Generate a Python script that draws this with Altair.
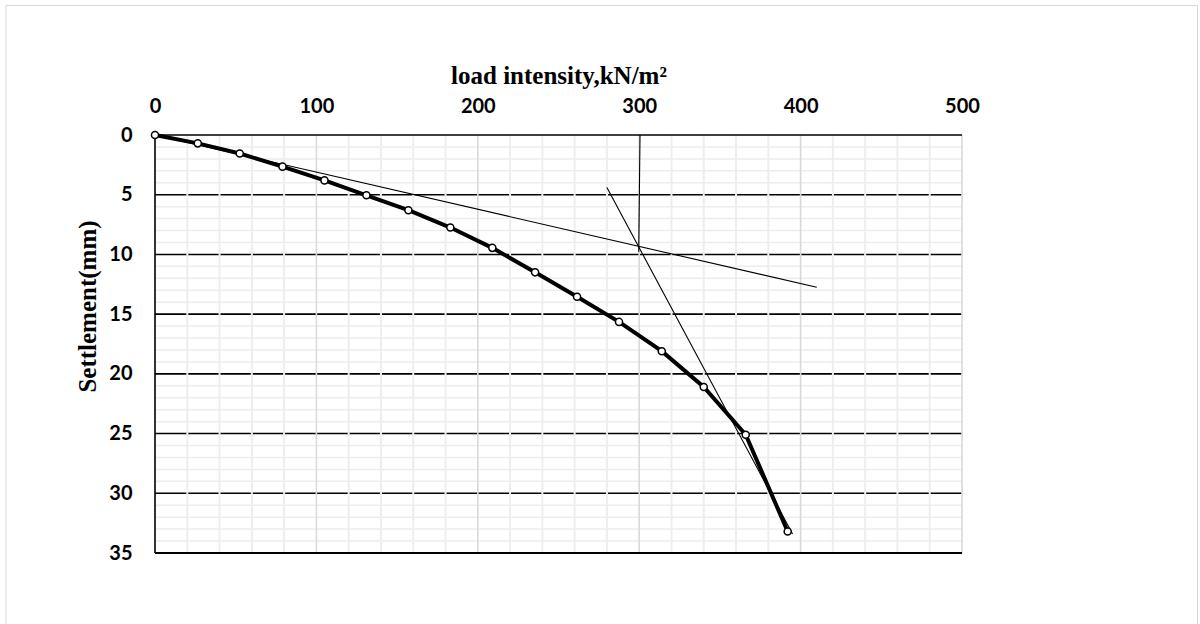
import altair as alt
import pandas as pd

# ---- data ----
loads = [0, 26.5, 52.5, 79, 105, 131, 157, 183, 209, 235.5, 261.5, 287.5, 314, 340, 366, 392]
settlements = [0, 0.7, 1.55, 2.65, 3.8, 5.05, 6.3, 7.75, 9.45, 11.5, 13.55, 15.65, 18.1, 21.1, 25.1, 33.2]

tangent_ids = ["t1", "t1", "t2", "t2", "v", "v"]
tangent_loads = [0, 410, 280, 395, 300.5, 299.7]
tangent_settle = [0, 12.75, 4.4, 33.4, 0, 9.8]
tangent_order = [0, 1, 0, 1, 0, 1]

x_ticks = [0, 100, 200, 300, 400, 500]
y_ticks = [0, 5, 10, 15, 20, 25, 30, 35]
y_minor = [v for v in range(1, 35) if v % 5 != 0]
y_major = [5, 10, 15, 20, 25, 30]
x_minor = [v for v in range(20, 500, 20) if v % 100 != 0]
x_major = [100, 200, 300, 400, 500]

W, H = 807, 418

curve = pd.DataFrame({"load": loads, "settle": settlements, "i": range(len(loads))})
tang = pd.DataFrame({"id": tangent_ids, "load": tangent_loads, "settle": tangent_settle, "o": tangent_order})
hmin = pd.DataFrame({"settle": y_minor, "load": 0, "load_b": 500})
hmaj = pd.DataFrame({"settle": y_major, "load": 0, "load_b": 500})
vmin = pd.DataFrame({"load": x_minor, "settle": 0, "settle_b": 35})
vmaj = pd.DataFrame({"load": x_major, "settle": 0, "settle_b": 35})
top_b = pd.DataFrame({"settle": [0], "load": [0], "load_b": [500]})
bot_b = pd.DataFrame({"settle": [35], "load": [0], "load_b": [500]})
left_b = pd.DataFrame({"load": [0], "settle": [0], "settle_b": [35]})

xs = alt.Scale(domain=[0, 500], nice=False, zero=False)
ys = alt.Scale(domain=[0, 35], nice=False, zero=False, reverse=True)

xaxis = alt.Axis(
    orient="top", values=x_ticks, title="load intensity,kN/m²",
    titleFont="Liberation Serif", titleFontSize=25, titleFontWeight="bold",
    titleColor="black", titleY=-52, titleBaseline="alphabetic",
    labelFont="Lato", labelFontSize=20, labelFontWeight="bold", labelColor="black",
    labelPadding=23, labelBaseline="alphabetic", labelFlush=False,
    ticks=False, tickSize=0, domain=False, grid=False,
)
yaxis = alt.Axis(
    orient="left", values=y_ticks, title="Settlement(mm)",
    titleFont="Liberation Serif", titleFontSize=25, titleFontWeight="bold",
    titleColor="black", titleX=-60, titleY=171, titleBaseline="alphabetic",
    labelFont="Lato", labelFontSize=20, labelFontWeight="bold", labelColor="black",
    labelPadding=23, labelFlush=False,
    ticks=False, tickSize=0, domain=False, grid=False,
)

X = alt.X("load:Q", scale=xs, axis=xaxis)
Y = alt.Y("settle:Q", scale=ys, axis=yaxis)

frame = alt.Chart(pd.DataFrame({"a": [0]})).mark_rect(
    fill="white", fillOpacity=0, stroke="#d9d9d9", strokeWidth=1
).encode(x=alt.value(-149), x2=alt.value(1042.5), y=alt.value(-129.5), y2=alt.value(520))

h_minor = alt.Chart(hmin).mark_rule(color="#ededed", strokeWidth=1.5).encode(y=Y, x=X, x2="load_b:Q")
h_major = alt.Chart(hmaj).mark_rule(color="black", strokeWidth=1.6).encode(y=Y, x=X, x2="load_b:Q")
v_minor = alt.Chart(vmin).mark_rule(color="#eeeeee", strokeWidth=2).encode(x=X, y=Y, y2="settle_b:Q")
v_major = alt.Chart(vmaj).mark_rule(color="#d9d9d9", strokeWidth=1.6).encode(x=X, y=Y, y2="settle_b:Q")
top_line = alt.Chart(top_b).mark_rule(color="black", strokeWidth=1.5).encode(y=Y, x=X, x2="load_b:Q")
bot_line = alt.Chart(bot_b).mark_rule(color="black", strokeWidth=2.2).encode(y=Y, x=X, x2="load_b:Q")
left_line = alt.Chart(left_b).mark_rule(color="black", strokeWidth=1.6).encode(x=X, y=Y, y2="settle_b:Q")

tangents = alt.Chart(tang).mark_line(color="black", strokeWidth=1.1).encode(
    x=X, y=Y, detail="id:N", order="o:Q"
)
line = alt.Chart(curve).mark_line(color="black", strokeWidth=4).encode(x=X, y=Y, order="i:Q")
pts = alt.Chart(curve).mark_point(
    shape="circle", filled=True, fill="white", stroke="black", strokeWidth=1.5, size=50, opacity=1
).encode(x=X, y=Y)

chart = alt.layer(
    frame, h_minor, h_major, v_minor, v_major, top_line, bot_line, left_line, tangents, line, pts
).properties(
    width=W, height=H,
    autosize=alt.AutoSizeParams(type="none"),
    padding={"left": 155, "top": 135, "right": 238, "bottom": 71},
    background="white",
).configure_view(stroke=None)

chart.save("out.html", embed_options={"renderer": "svg", "actions": False})
